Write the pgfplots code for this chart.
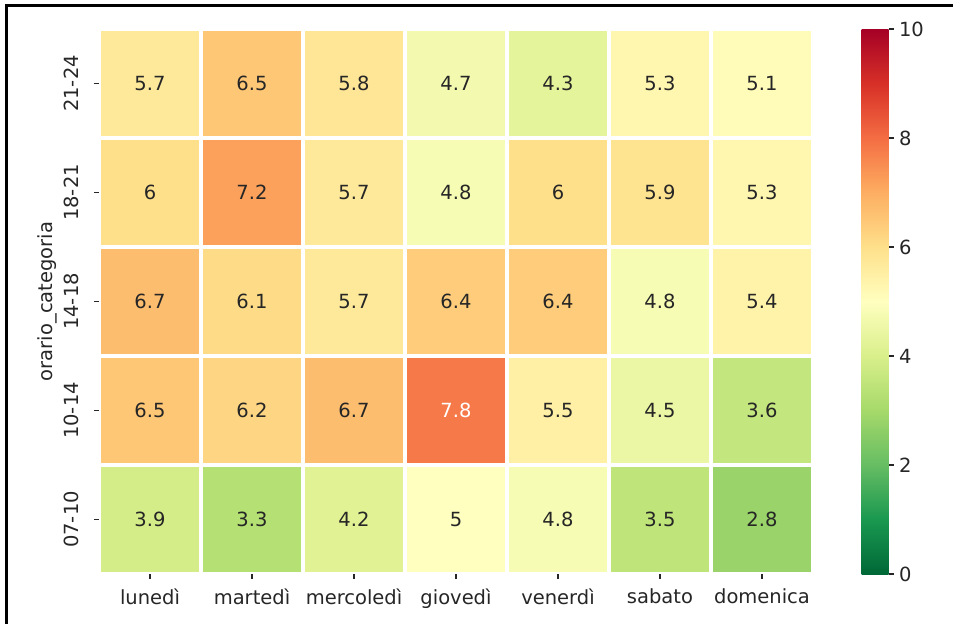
\documentclass[border=0pt]{standalone}
\usepackage{fontspec}
\setmainfont{DejaVu Sans}
\usepackage{pgfplots}
\usepackage{pgfplotstable}
\pgfplotsset{compat=1.18}

\definecolor{ink}{HTML}{262626}
\newcommand\chartfont{\fontsize{19.5}{23.4}\selectfont}

% RdYlGn reversed: one control colour per unit of the 0..10 scale
\pgfplotsset{
  colormap={rdylgnr}{
    HTML=(006837) HTML=(1A9850) HTML=(66BD63) HTML=(A6D96A) HTML=(D9EF8B)
    HTML=(FFFFBF) HTML=(FEE08B) HTML=(FDAE61) HTML=(F46D43) HTML=(D73027)
    HTML=(A50026)
  }
}

% x = day (0 = lunedi), y = time slot (0 = 07-10), v = value,
% w = share of white in the label colour (100 on the darkest cell)
\pgfplotstableread{
x y v w
0 0 3.9 0
1 0 3.3 0
2 0 4.2 0
3 0 5 0
4 0 4.8 0
5 0 3.5 0
6 0 2.8 0
0 1 6.5 0
1 1 6.2 0
2 1 6.7 0
3 1 7.8 100
4 1 5.5 0
5 1 4.5 0
6 1 3.6 0
0 2 6.7 0
1 2 6.1 0
2 2 5.7 0
3 2 6.4 0
4 2 6.4 0
5 2 4.8 0
6 2 5.4 0
0 3 6 0
1 3 7.2 0
2 3 5.7 0
3 3 4.8 0
4 3 6 0
5 3 5.9 0
6 3 5.3 0
0 4 5.7 0
1 4 6.5 0
2 4 5.8 0
3 4 4.7 0
4 4 4.3 0
5 4 5.3 0
6 4 5.1 0
}\scores

\begin{document}
\begin{tikzpicture}
\useasboundingbox (0pt,0pt) rectangle (953pt,624pt);
\begin{axis}[
  at={(99pt,50pt)}, anchor=south west,
  scale only axis, width=714pt, height=545pt,
  xmin=-0.5, xmax=6.5, ymin=-0.5, ymax=4.5,
  colormap name=rdylgnr, point meta min=0, point meta max=10,
  axis on top,
  axis line style={draw=none},
  xtick={0,...,6}, ytick={0,...,4},
  xticklabels={lunedì, martedì, mercoledì, giovedì, venerdì, sabato, domenica},
  yticklabels={07-10, 10-14, 14-18, 18-21, 21-24},
  xtick pos=bottom, ytick pos=left,
  tick align=outside, major tick length=5pt,
  tick style={ink, line width=1.1pt},
  tick label style={font=\chartfont, text=ink},
  xticklabel style={yshift=-6pt},
  yticklabel style={xshift=-12pt, rotate=90, anchor=south},
  ylabel={orario\_categoria},
  ylabel style={font=\chartfont, text=ink},
  minor xtick={-0.5,0.5,...,6.5},
  minor ytick={-0.5,0.5,...,4.5},
  minor tick length=0pt,
  xminorgrids=true, yminorgrids=true,
  minor grid style={white, line width=3.5pt},
  colorbar,
  colorbar/width=27pt,
  colorbar style={
    at={(parent axis.north east)}, anchor=north west, xshift=40pt,
    ytick={0,2,4,6,8,10},
    ytick pos=right, yticklabel pos=right,
    axis on top,
    axis line style={draw=none},
    tick align=outside, major tick length=5pt,
    major tick style={ink, line width=1.1pt},
    yticklabel style={font=\chartfont, text=ink, xshift=2pt},
    /pgf/number format/assume math mode=true,
  },
]
\addplot[matrix plot*, mesh/cols=7, mesh/rows=5, point meta=explicit]
  table[x=x, y=y, meta=v] {\scores};
\addplot[draw=none, mark=none, point meta=explicit symbolic,
  visualization depends on={\thisrow{w} \as \whiteshare},
  nodes near coords, nodes near coords align={center},
  every node near coord/.append style={font=\chartfont,
    text=white!\whiteshare!ink, anchor=center}]
  table[x=x, y=y, meta=v] {\scores};
\end{axis}
\draw[line width=3pt, black] (6.5pt,0pt) -- (6.5pt,618pt) -- (953pt,618pt);
\end{tikzpicture}
\end{document}
